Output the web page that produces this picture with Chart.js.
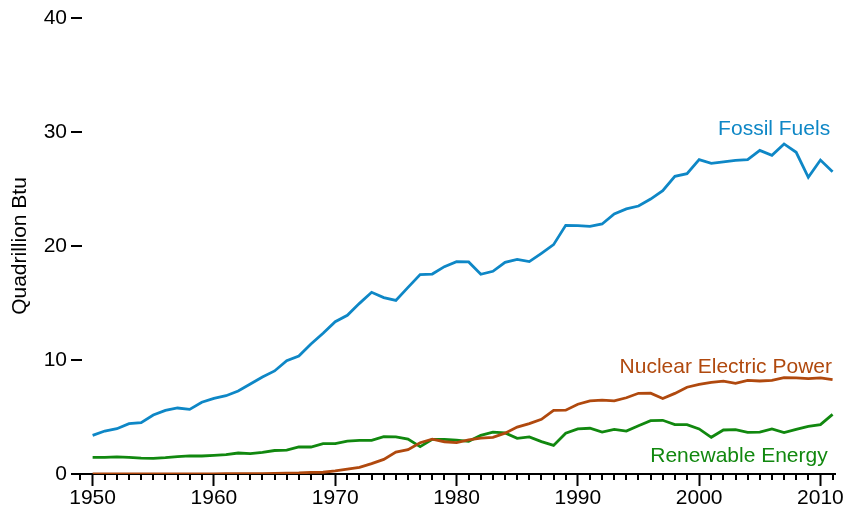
<!DOCTYPE html>
<html>
<head>
<meta charset="utf-8">
<title>Energy by source</title>
<script src="https://cdn.jsdelivr.net/npm/chart.js@4.4.1/dist/chart.umd.min.js"></script>
<style>
  html, body { margin: 0; padding: 0; background: #fff; }
  #wrap { width: 848px; height: 511px; position: relative; }
</style>
</head>
<body>
<div id="wrap"><canvas id="energyChart"></canvas></div>
<script>
// ── DATA ──────────────────────────────────────────────────────
const YEARS = [
  1950, 1951, 1952, 1953, 1954, 1955, 1956, 1957, 1958, 1959,
  1960, 1961, 1962, 1963, 1964, 1965, 1966, 1967, 1968, 1969,
  1970, 1971, 1972, 1973, 1974, 1975, 1976, 1977, 1978, 1979,
  1980, 1981, 1982, 1983, 1984, 1985, 1986, 1987, 1988, 1989,
  1990, 1991, 1992, 1993, 1994, 1995, 1996, 1997, 1998, 1999,
  2000, 2001, 2002, 2003, 2004, 2005, 2006, 2007, 2008, 2009,
  2010, 2011
];

const FOSSIL = [
  3.39, 3.77, 3.97, 4.41, 4.50, 5.17, 5.58, 5.79, 5.67, 6.29,
  6.64, 6.87, 7.28, 7.89, 8.51, 9.04, 9.94, 10.35, 11.40, 12.34,
  13.36, 13.92, 14.97, 15.94, 15.47, 15.23, 16.37, 17.49, 17.54, 18.19,
  18.63, 18.60, 17.52, 17.78, 18.57, 18.83, 18.63, 19.36, 20.12, 21.81,
  21.78, 21.72, 21.93, 22.81, 23.25, 23.51, 24.12, 24.85, 26.11, 26.35,
  27.57, 27.25, 27.37, 27.51, 27.57, 28.39, 27.95, 28.95, 28.22, 26.03,
  27.54, 26.52
];

const NUCLEAR = [
  0, 0, 0, 0, 0, 0, 0, 0.001, 0.002, 0.002,
  0.006, 0.02, 0.026, 0.038, 0.04, 0.043, 0.064, 0.088, 0.142, 0.154,
  0.27, 0.43, 0.58, 0.91, 1.28, 1.92, 2.14, 2.74, 3.06, 2.83,
  2.76, 3.00, 3.14, 3.22, 3.58, 4.12, 4.42, 4.80, 5.59, 5.60,
  6.12, 6.42, 6.48, 6.41, 6.69, 7.08, 7.09, 6.62, 7.07, 7.61,
  7.86, 8.03, 8.15, 7.96, 8.22, 8.16, 8.21, 8.46, 8.43, 8.36,
  8.43, 8.27
];

const RENEWABLE = [
  1.46, 1.46, 1.50, 1.46, 1.40, 1.37, 1.43, 1.52, 1.59, 1.58,
  1.64, 1.70, 1.84, 1.78, 1.90, 2.06, 2.10, 2.37, 2.37, 2.66,
  2.67, 2.89, 2.95, 2.95, 3.27, 3.25, 3.07, 2.40, 3.04, 3.04,
  2.98, 2.87, 3.39, 3.68, 3.60, 3.13, 3.25, 2.84, 2.51, 3.57,
  3.95, 4.01, 3.68, 3.92, 3.77, 4.24, 4.68, 4.71, 4.33, 4.33,
  3.95, 3.22, 3.86, 3.89, 3.65, 3.68, 3.95, 3.63, 3.92, 4.18,
  4.33, 5.23
];

const X_TICKS = [1950, 1960, 1970, 1980, 1990, 2000, 2010];
const Y_TICKS = [0, 10, 20, 30, 40];

// ── STYLE ─────────────────────────────────────────────────────
const BLUE  = '#0e87c6';
const BROWN = '#b0490e';
const GREEN = '#11880f';
const FONT  = "'Liberation Sans', Arial, sans-serif";

const LINE_LABELS = [
  { text: 'Fossil Fuels',           color: BLUE,  x: 2010.8, y: 29.75 },
  { text: 'Nuclear Electric Power', color: BROWN, x: 2010.95, y: 8.86 },
  { text: 'Renewable Energy',       color: GREEN, x: 2010.6, y: 1.05 }
];

function toPoints(values) {
  return YEARS.map((yr, i) => ({ x: yr, y: values[i] }));
}

// y dashes (drawn inward), minor year ticks and series labels
const axisMarks = {
  id: 'axisMarks',
  afterDraw(chart) {
    const { ctx, chartArea, scales: { x, y } } = chart;
    ctx.save();
    ctx.strokeStyle = '#000';
    ctx.lineWidth = 2;

    Y_TICKS.forEach(v => {
      const py = Math.round(y.getPixelForValue(v));
      ctx.beginPath();
      ctx.moveTo(chartArea.left - 1, py);
      ctx.lineTo(chartArea.left + 10, py);
      ctx.stroke();
    });

    for (let yr = 1949; yr <= 2011; yr++) {
      if (yr % 10 === 0) continue;
      const px = Math.round(x.getPixelForValue(yr));
      ctx.beginPath();
      ctx.moveTo(px, chartArea.bottom);
      ctx.lineTo(px, chartArea.bottom + 6);
      ctx.stroke();
    }

    ctx.font = '21px ' + FONT;
    ctx.textAlign = 'right';
    ctx.textBaseline = 'alphabetic';
    LINE_LABELS.forEach(l => {
      ctx.fillStyle = l.color;
      ctx.fillText(l.text, x.getPixelForValue(l.x), y.getPixelForValue(l.y));
    });
    ctx.restore();
  }
};

const ctx = document.getElementById('energyChart').getContext('2d');
new Chart(ctx, {
  type: 'line',
  data: {
    datasets: [
      { label: 'Fossil Fuels',           data: toPoints(FOSSIL),    borderColor: BLUE },
      { label: 'Nuclear Electric Power', data: toPoints(NUCLEAR),   borderColor: BROWN },
      { label: 'Renewable Energy',       data: toPoints(RENEWABLE), borderColor: GREEN }
    ]
  },
  options: {
    responsive: true,
    maintainAspectRatio: false,
    animation: false,
    layout: { padding: { top: 18, right: 13, left: 0, bottom: 0 } },
    elements: {
      point: { radius: 0 },
      line: { borderWidth: 2.8, tension: 0, fill: false }
    },
    plugins: {
      legend: { display: false },
      tooltip: { enabled: false }
    },
    scales: {
      x: {
        type: 'linear',
        min: 1948.3,
        max: 2011.2,
        afterBuildTicks: s => { s.ticks = X_TICKS.map(v => ({ value: v })); },
        afterFit: s => { s.height = 37; },
        grid: { display: true, drawOnChartArea: false, drawTicks: true, tickLength: 12, tickWidth: 2, tickColor: '#000' },
        border: { display: true, color: '#000', width: 2 },
        ticks: {
          color: '#000',
          font: { family: FONT, size: 21 },
          padding: 0,
          maxRotation: 0,
          autoSkip: false,
          callback: v => String(v)
        }
      },
      y: {
        min: 0,
        max: 40,
        afterBuildTicks: s => { s.ticks = Y_TICKS.map(v => ({ value: v })); },
        afterFit: s => { s.width = 72; },
        grid: { display: false, drawTicks: false },
        border: { display: false },
        ticks: { color: '#000', font: { family: FONT, size: 21 }, padding: 5 },
        title: {
          display: true,
          text: 'Quadrillion Btu',
          color: '#000',
          font: { family: FONT, size: 21 },
          padding: { top: 8, bottom: 0 }
        }
      }
    }
  },
  plugins: [axisMarks]
});
</script>
</body>
</html>
